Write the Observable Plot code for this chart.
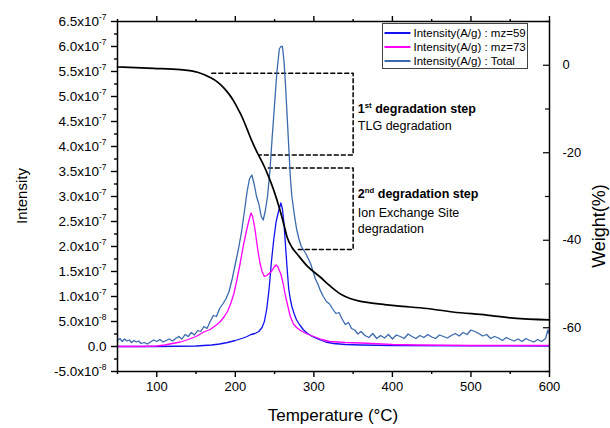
<!DOCTYPE html>
<html><head><meta charset="utf-8">
<script src="https://cdn.jsdelivr.net/npm/d3@7"></script>
<script src="https://cdn.jsdelivr.net/npm/@observablehq/plot@0.6"></script>
<style>
body{margin:0;background:#fff;}
#chart svg{font-family:"Liberation Sans",Arial,sans-serif;}
</style>
</head><body><div id="chart"></div>
<script>
// Intensity values are in units of 1e-8 A/g
const totalT = [50,53,56,59,62,65,68,71,74,77,80,84,88,92,96,100,104,108,112,116,120,124,128,132,136,140,144,148,152,156,160,164,168,172,176,180,184,188,192,196,200,204,208,212,215,218,221,224,227,230,233,235.5,238,241,244,247,250,253,256,258,260,262,264,266,268,270,272,275,278,281,284,287,290,293,296,299,302,305,308,312,316,320,324,328,332,336,340,344,348,352,356,360,365,370,375,380,385,390,395,400,405,410,415,420,425,430,435,440,445,450,455,460,465,470,475,480,485,490,495,500,505,510,515,520,525,530,535,540,545,550,555,560,565,570,575,580,585,590,595,598,600];
const totalI = [1.2,1.6,1.0,1.5,1.1,1.3,0.8,1.2,0.9,1.1,0.6,0.8,0.5,0.9,1.3,1.0,1.4,0.9,1.2,1.5,1.1,1.6,2.0,1.5,2.4,2.0,2.8,2.3,3.2,3.0,4.0,3.6,5.0,6.2,6.0,7.6,8.5,9.5,11.0,13.5,16.5,19.5,23.0,27.5,31.0,33.5,34.3,32.5,30.0,28.5,26.0,25.3,27.0,30.0,35.0,42.0,48.5,55.0,59.5,60.0,60.0,57.0,52.0,46.0,40.0,34.0,30.0,26.5,23.5,21.5,20.0,19.3,18.5,17.5,16.5,15.0,13.5,12.5,11.3,10.0,9.0,8.5,7.5,6.6,6.8,5.5,4.4,4.8,3.6,3.3,2.5,3.0,2.2,1.8,2.6,1.6,2.2,1.7,2.4,1.5,2.3,2.0,1.6,2.5,2.0,1.6,2.2,1.8,2.4,1.9,1.6,2.3,2.0,1.7,2.2,2.6,2.1,2.8,2.4,3.3,3.0,2.6,2.1,2.4,1.6,2.0,1.7,1.2,1.8,1.4,1.1,1.5,1.0,1.6,1.2,0.9,1.4,1.0,1.6,3.3,2.5];

const mz59T = [50,100,150,170,180,190,200,210,215,220,225,230,234,237,240,243,246,249,252,255,258,260,262,264,266,268,270,272,275,278,282,287,292,298,305,315,325,340,360,400,500,600];
const mz59I = [0,0,0.1,0.3,0.5,0.8,1.2,1.7,2.0,2.4,2.6,3.0,3.8,5.0,7.5,11.5,17.0,21.5,25.0,27.0,28.7,27.5,24.5,20.0,15.5,11.5,9.5,8.0,6.5,5.3,4.3,3.3,2.6,2.0,1.5,0.9,0.6,0.4,0.3,0.2,0.15,0.1];

const mz73T = [50,80,100,110,120,130,140,150,160,168,175,181,186,190,194,198,202,206,210,214,217,220,222,225,228,231,234,237,240,243,246,249,252,254,256,258,261,264,267,270,274,278,283,290,300,310,320,340,360,400,430,500,600];
const mz73I = [0,0,0.1,0.3,0.6,0.9,1.4,2.0,2.9,3.4,4.2,5.0,6.0,7.0,8.5,10.5,13.3,16.5,20.0,23.0,25.0,26.7,26.0,23.5,20.0,17.0,15.0,14.0,14.2,14.6,15.0,15.8,16.3,16.0,15.2,14.5,12.5,10.0,8.0,6.0,4.5,3.8,3.2,2.6,2.0,1.4,1.0,0.8,0.7,0.4,0.3,0.2,0.2];

// Weight (%) – right axis
const weightT = [50,96,130,152,168,177,185,192,198,204,209,215,221,228,236,242,249,257,262,266,272,279,291,308,321,335,346,358,368,390,406,444,477,520,554,600];
const weightW = [-0.4,-0.7,-1.0,-1.6,-2.8,-3.8,-5.1,-6.6,-8.2,-10.2,-12.0,-14.6,-17.3,-20.0,-22.8,-25.3,-28.6,-33.2,-36.5,-39.3,-41.6,-43.2,-45.8,-48.4,-50.5,-52.4,-53.3,-53.9,-54.2,-54.7,-55.0,-55.6,-56.4,-57.1,-57.8,-58.2];

// axes
const xDomain = [50, 600];
const yDomain = [-5, 65];      // 1e-8 units
const wDomain = [-70, 10];     // weight %
const xMajor = [100,200,300,400,500,600];
const xMinor = [50,150,250,350,450,550];
const yMajor = [-5,0,5,10,15,20,25,30,35,40,45,50,55,60,65];
const yMinor = [-2.5,2.5,7.5,12.5,17.5,22.5,27.5,32.5,37.5,42.5,47.5,52.5,57.5,62.5];
const wMajor = [0,-20,-40,-60];
const wMinor = [10,-10,-30,-50,-70];

// annotations (temperature, weight %)
const boxT = [170,350,350,230, 242,350,350,277];
const boxW = [-1.8,-1.8,-20.5,-20.5, -23.5,-23.5,-42.1,-42.1];
const boxId = [1,1,1,1, 2,2,2,2];
const noteT = [356,356,356,356,356];
const noteW = [-10.0,-13.9,-29.4,-33.8,-37.4];
const noteText = ["1^st degradation step","TLG degradation","2^nd degradation step","Ion Exchange Site","degradation"];
const noteBold = [true,false,true,false,false];

const legendLabels = ["Intensity(A/g) : mz=59","Intensity(A/g) : mz=73","Intensity(A/g) : Total"];
const colors = {mz59:"#1212ee", mz73:"#ff00ff", total:"#3a6aae", weight:"#000000"};

const wToY = w => yDomain[0] + (w - wDomain[0]) / (wDomain[1] - wDomain[0]) * (yDomain[1] - yDomain[0]);
const yToW = y => wDomain[0] + (y - yDomain[0]) / (yDomain[1] - yDomain[0]) * (wDomain[1] - wDomain[0]);

const series = (T, V) => T.map((t, i) => ({t, v: V[i]}));
const total = series(totalT, totalI);
const mz59 = series(mz59T, mz59I);
const mz73 = series(mz73T, mz73I);
const weight = weightT.map((t, i) => ({t, v: wToY(weightW[i])}));
const boxes = boxT.map((t, i) => ({t, v: wToY(boxW[i]), id: boxId[i]}));
const notes = noteT.map((t, i) => ({t, v: wToY(noteW[i]), text: noteText[i], bold: noteBold[i]}));

function fmtY(d) {
  if (Math.abs(d) < 1e-9) return "0.0";
  if (Math.abs(d) < 10) return d.toFixed(1) + "x10^-8";
  return (d / 10).toFixed(1) + "x10^-7";
}

const none = () => "";
const chart = Plot.plot({
  width: 610, height: 428,
  marginLeft: 117, marginRight: 61, marginTop: 21, marginBottom: 57,
  style: {fontFamily: '"Liberation Sans", Arial, sans-serif', fontSize: "13px", color: "#000", background: "#fff"},
  x: {domain: xDomain},
  y: {domain: yDomain},
  marks: [
    Plot.axisX({anchor: "bottom", ticks: xMajor, tickSize: 6, tickPadding: 4, tickFormat: d => String(d), label: null, fontSize: 13, strokeWidth: 1.4}),
    Plot.axisX({anchor: "bottom", ticks: xMinor, tickSize: 3, tickFormat: none, label: null, strokeWidth: 1.4}),
    Plot.axisX({anchor: "top", ticks: xMajor, tickSize: 6, tickFormat: none, label: null, strokeWidth: 1.4}),
    Plot.axisX({anchor: "top", ticks: xMinor, tickSize: 3, tickFormat: none, label: null, strokeWidth: 1.4}),
    Plot.axisY({anchor: "left", ticks: yMajor, tickSize: 6, tickPadding: 5, tickFormat: fmtY, label: null, fontSize: 13.5, strokeWidth: 1.4}),
    Plot.axisY({anchor: "left", ticks: yMinor, tickSize: 3, tickFormat: none, label: null, strokeWidth: 1.4}),
    Plot.axisY({anchor: "right", ticks: wMajor.map(wToY), tickSize: -7, tickFormat: none, label: null, strokeWidth: 1.2}),
    Plot.axisY({anchor: "right", ticks: wMinor.map(wToY), tickSize: -5, tickFormat: none, label: null, strokeWidth: 1.2}),
    Plot.axisY({anchor: "right", ticks: wMajor.map(wToY), tickSize: 0, tickPadding: 13, tickFormat: d => String(Math.round(yToW(d)) || 0), label: null, fontSize: 13}),
    Plot.line(boxes, {x: "t", y: "v", z: "id", stroke: "#000", strokeWidth: 1.5, strokeDasharray: "4,3"}),
    Plot.line(mz59, {x: "t", y: "v", stroke: colors.mz59, strokeWidth: 1.3}),
    Plot.line(mz73, {x: "t", y: "v", stroke: colors.mz73, strokeWidth: 1.3}),
    Plot.line(total, {x: "t", y: "v", stroke: colors.total, strokeWidth: 1.3}),
    Plot.line(weight, {x: "t", y: "v", stroke: colors.weight, strokeWidth: 1.7, curve: "monotone-x"}),
    Plot.text(notes.filter(d => d.bold), {x: "t", y: "v", text: "text", textAnchor: "start", fontSize: 12.5, fontWeight: "bold", fill: "#000"}),
    Plot.text(notes.filter(d => !d.bold), {x: "t", y: "v", text: "text", textAnchor: "start", fontSize: 12.5, fill: "#000"}),
    Plot.frame({stroke: "#000", strokeWidth: 1.5})
  ]
});
document.getElementById("chart").appendChild(chart);

const svg = d3.select(chart.tagName.toLowerCase() === "svg" ? chart : chart.querySelector("svg"));

// superscripts ("^" marks the start of the raised part)
svg.selectAll("text").each(function () {
  const s = this.textContent;
  const k = s.indexOf("^");
  if (k < 0) return;
  const fs = parseFloat(getComputedStyle(this).fontSize) || 13;
  const rest = s.slice(k + 1);
  const sp = rest.indexOf(" ");
  const sup = sp < 0 ? rest : rest.slice(0, sp);
  const tail = sp < 0 ? "" : rest.slice(sp);
  const el = d3.select(this);
  el.text(null);
  el.append("tspan").text(s.slice(0, k));
  el.append("tspan").attr("dy", -0.42 * fs).attr("font-size", 0.62 * fs).text(sup);
  if (tail) el.append("tspan").attr("dy", 0.42 * fs).text(tail);
});

// axis titles
const titles = svg.append("g").attr("fill", "#000").attr("text-anchor", "middle");
titles.append("text").attr("transform", "translate(22,196) rotate(-90)")
  .attr("dy", "0.35em").attr("font-size", 15).text("Intensity");
titles.append("text").attr("transform", "translate(333,415)")
  .attr("dy", "0.35em").attr("font-size", 17).text("Temperature (°C)");
titles.append("text").attr("transform", "translate(599,226) rotate(-90)")
  .attr("dy", "0.35em").attr("font-size", 18).text("Weight(%)");

// legend
const lg = svg.append("g").attr("transform", "translate(382.5,23.5)").attr("text-anchor", "start");
lg.append("rect").attr("width", 145).attr("height", 45).attr("fill", "#fff").attr("stroke", "#444").attr("stroke-width", 1);
const lcol = [colors.mz59, colors.mz73, colors.total];
legendLabels.forEach((lab, i) => {
  const y = 9.5 + i * 14;
  lg.append("line").attr("x1", 2).attr("x2", 28).attr("y1", y).attr("y2", y).attr("stroke", lcol[i]).attr("stroke-width", 2);
  lg.append("text").attr("x", 31).attr("y", y).attr("dy", "0.35em").attr("text-anchor", "start").attr("font-size", 11.5).attr("fill", "#000").text(lab);
});
</script>
</body></html>
